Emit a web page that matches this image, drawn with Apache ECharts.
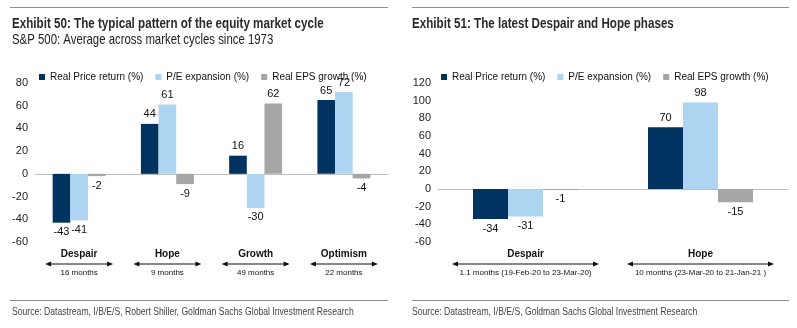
<!DOCTYPE html>
<html><head><meta charset="utf-8">
<script src="https://cdn.jsdelivr.net/npm/echarts@6/dist/echarts.min.js"></script>
<style>html,body{margin:0;padding:0;background:#fff}#c{width:797px;height:328px}</style>
</head><body><div id="c"></div>
<script>
// ---- data ----
const seriesNames = ['Real Price return (%)', 'P/E expansion (%)', 'Real EPS growth (%)'];
const phases1 = ['Despair', 'Hope', 'Growth', 'Optimism'];
const durations1 = ['16 months', '9 months', '49 months', '22 months'];
const price1 = [-43, 44, 16, 65];
const pe1 = [-41, 61, -30, 72];
const eps1 = [-2, -9, 62, -4];
const phases2 = ['Despair', 'Hope'];
const durations2 = ['1.1 months (19-Feb-20 to 23-Mar-20)', '10 months (23-Mar-20 to 21-Jan-21 )'];
const price2 = [-34, 70];
const pe2 = [-31, 98];
const eps2 = [-1, -15];
const yRange1 = [-60, 80];
const yRange2 = [-60, 120];
const yStep = 20;
const title1 = 'Exhibit 50: The typical pattern of the equity market cycle';
const subtitle1 = 'S&P 500: Average across market cycles since 1973';
const title2 = 'Exhibit 51: The latest Despair and Hope phases';
const source1 = 'Source: Datastream, I/B/E/S, Robert Shiller, Goldman Sachs Global Investment Research';
const source2 = 'Source: Datastream, I/B/E/S, Goldman Sachs Global Investment Research';

// ---- style ----
const colors = ['#00335F', '#ADD4F0', '#A6A6A6'];
const SANS = '"Liberation Sans",Arial,sans-serif';
const NARROW_SCALE = 0.82;

const chart = echarts.init(document.getElementById('c'), null, {renderer: 'canvas'});

function mkData(arr) {
  return arr.map(v => ({value: v, label: {position: v < 0 ? 'bottom' : 'top'}}));
}
function mkSeries(vals, axisIdx) {
  return vals.map((arr, i) => ({
    name: seriesNames[i], type: 'bar', xAxisIndex: axisIdx * 2, yAxisIndex: axisIdx,
    data: mkData(arr), barGap: '0%', barCategoryGap: '40%',
    itemStyle: {color: colors[i]},
    label: {show: true, fontFamily: SANS, fontSize: 11, color: '#111', distance: 4},
    emphasis: {disabled: true}, animation: false
  }));
}
function catAxes(gridIndex, cats, durs) {
  return [
    {type: 'category', gridIndex, data: cats, position: 'bottom',
     axisLine: {onZero: true, lineStyle: {color: '#BFBFBF', width: 1}},
     axisTick: {show: false}, axisLabel: {show: false}},
    {type: 'category', gridIndex, data: cats, position: 'bottom',
     axisLine: {show: false, onZero: false}, axisTick: {show: false},
     axisLabel: {margin: 6, interval: 0, color: '#111',
       formatter: (v, i) => '{n|' + v + '}\n{g| }\n{d|' + durs[i] + '}',
       rich: {
         n: {fontFamily: SANS, fontWeight: 'bold', fontSize: 10, lineHeight: 12, color: '#111'},
         g: {fontSize: 1, lineHeight: 8},
         d: {fontFamily: SANS, fontSize: 8, lineHeight: 10, color: '#111'}
       }}}
  ];
}
function valAxis(gridIndex, r) {
  return {type: 'value', gridIndex, min: r[0], max: r[1], interval: yStep,
    axisLine: {show: false}, axisTick: {show: false}, splitLine: {show: false},
    axisLabel: {fontFamily: SANS, fontSize: 11, color: '#222', margin: 7}};
}
function legend(left) {
  return {left, top: 67, itemWidth: 6, itemHeight: 6, itemGap: 12, icon: 'rect',
    data: seriesNames, selectedMode: false,
    textStyle: {fontFamily: SANS, fontSize: 10, color: '#111'}};
}

const option = {
  animation: false,
  legend: [legend(34), legend(436)],
  grid: [
    {left: 35, top: 83, width: 353, height: 159, outerBoundsMode: 'none'},
    {left: 438, top: 83, width: 350, height: 159, outerBoundsMode: 'none'}
  ],
  xAxis: [...catAxes(0, phases1, durations1), ...catAxes(1, phases2, durations2)],
  yAxis: [valAxis(0, yRange1), valAxis(1, yRange2)],
  series: [...mkSeries([price1, pe1, eps1], 0), ...mkSeries([price2, pe2, eps2], 1)]
};
chart.setOption(option);

// decorations: text in narrow style, rule lines and duration arrows
function ntext(text, x, y, size, weight, fill) {
  return {type: 'text', x, y, scaleX: NARROW_SCALE, silent: true,
    style: {text, fontFamily: SANS, fontSize: size, fontWeight: weight, fill, verticalAlign: 'middle'}};
}
function arrow(cx, y, w) {
  const x0 = cx - w / 2, x1 = cx + w / 2;
  return {type: 'group', silent: true, children: [
    {type: 'line', shape: {x1: x0 + 3, y1: y, x2: x1 - 3, y2: y}, style: {stroke: '#111', lineWidth: 1}},
    {type: 'polygon', shape: {points: [[x0, y], [x0 + 6, y - 2.5], [x0 + 6, y + 2.5]]}, style: {fill: '#111'}},
    {type: 'polygon', shape: {points: [[x1, y], [x1 - 6, y - 2.5], [x1 - 6, y + 2.5]]}, style: {fill: '#111'}}
  ]};
}
const g = [
  {type: 'line', shape: {x1: 10, y1: 7.5, x2: 388, y2: 7.5}, style: {stroke: '#8C8C8C', lineWidth: 1}},
  {type: 'line', shape: {x1: 412, y1: 7.5, x2: 789, y2: 7.5}, style: {stroke: '#8C8C8C', lineWidth: 1}},
  {type: 'line', shape: {x1: 10, y1: 300.5, x2: 388, y2: 300.5}, style: {stroke: '#8C8C8C', lineWidth: 1}},
  {type: 'line', shape: {x1: 412, y1: 300.5, x2: 789, y2: 300.5}, style: {stroke: '#8C8C8C', lineWidth: 1}},
  ntext(title1, 12, 24, 14.2, 'bold', '#2B2B2B'),
  ntext(subtitle1, 12, 40, 13.9, 'normal', '#222'),
  ntext(title2, 412, 24, 14.2, 'bold', '#2B2B2B'),
  ntext(source1, 12, 312, 10.5, 'normal', '#444'),
  ntext(source2, 412, 312, 10.5, 'normal', '#444')
];
phases1.forEach(p => g.push(arrow(chart.convertToPixel({xAxisIndex: 0}, p), 264, 68)));
phases2.forEach(p => g.push(arrow(chart.convertToPixel({xAxisIndex: 2}, p), 264, 147)));
chart.setOption({graphic: g});
</script>
</body></html>
